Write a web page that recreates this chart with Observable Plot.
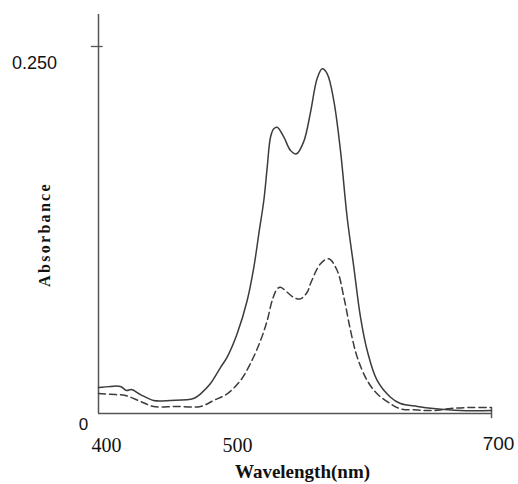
<!DOCTYPE html>
<html>
<head>
<meta charset="utf-8">
<script src="https://cdn.jsdelivr.net/npm/d3@7"></script>
<script src="https://cdn.jsdelivr.net/npm/@observablehq/plot@0.6"></script>
<style>
  html, body { margin: 0; padding: 0; background: #fff; }
</style>
</head>
<body>
<div id="chart"></div>
<script>
// Wavelength (nm) and absorbance for the solid curve
const solidWl = [400, 409.2, 416.8, 421.4, 425.2, 432.1, 442.0, 455.0, 472.5, 477.9, 485.5, 493.1, 498.2, 505.9, 513.5, 518.6, 522.4, 526.2, 528.8, 531.3, 533.8, 536.4, 541.5, 546.6, 551.1, 556.7, 561.8, 566.9, 570.8, 574.6, 579.6, 584.7, 589.8, 594.9, 600.0, 605.1, 612.7, 622.9, 630.5, 643.5, 655.7, 676.3, 700];
const solidAbs = [0.0177, 0.0184, 0.0184, 0.0157, 0.0163, 0.0129, 0.0089, 0.0089, 0.0102, 0.0134, 0.0204, 0.0313, 0.0384, 0.0545, 0.0770, 0.0997, 0.1226, 0.1451, 0.1678, 0.1882, 0.1939, 0.1950, 0.1882, 0.1792, 0.1769, 0.1853, 0.2050, 0.2282, 0.2348, 0.2314, 0.2132, 0.1792, 0.1337, 0.0997, 0.0656, 0.0429, 0.0225, 0.0111, 0.0068, 0.0048, 0.0034, 0.0020, 0.0020];

// Wavelength (nm) and absorbance for the dashed curve
const dashedWl = [400, 413.0, 420.6, 432.1, 442.0, 458.8, 477.9, 488.0, 498.2, 508.4, 516.0, 523.7, 528.8, 532.6, 536.4, 538.9, 544.0, 549.1, 554.2, 559.3, 561.8, 569.5, 575.8, 582.2, 587.3, 592.4, 597.5, 605.1, 612.7, 622.9, 630.5, 643.5, 655.7, 668.7, 684.0, 700];
const dashedAbs = [0.0136, 0.0129, 0.0123, 0.0082, 0.0048, 0.0048, 0.0048, 0.0089, 0.0134, 0.0225, 0.0341, 0.0497, 0.0634, 0.0770, 0.0849, 0.0860, 0.0826, 0.0790, 0.0781, 0.0826, 0.0884, 0.1020, 0.1054, 0.0974, 0.0792, 0.0565, 0.0384, 0.0225, 0.0134, 0.0066, 0.0032, 0.0024, 0.0020, 0.0034, 0.0041, 0.0041];

// Tick labels
const xTicks = [400, 500, 700];
const xTickLabels = ["400", "500", "700"];
const yTicks = [0, 0.25];
const yTickLabels = ["0", "0.250"];
const xLabel = "Wavelength(nm)";
const yLabel = "Absorbance";

const solid = solidWl.map((w, i) => ({w, a: solidAbs[i]}));
const dashed = dashedWl.map((w, i) => ({w, a: dashedAbs[i]}));

const serif = "Liberation Serif, Times New Roman, serif";
const sans = "Liberation Sans, Arial, sans-serif";
const ink = "#3c3c3c";

const chart = Plot.plot({
  width: 518,
  height: 484,
  marginLeft: 98,
  marginRight: 27,
  marginTop: 46,
  marginBottom: 71,
  x: {domain: [400, 700], axis: null},
  y: {domain: [0, 0.25], axis: null},
  style: {background: "#fff"},
  marks: [
    // axes
    Plot.ruleX([400], {y1: 0, y2: 0.2718, stroke: "#555", strokeWidth: 1.5}),
    Plot.ruleY([0], {x1: 400, x2: 700, stroke: "#555", strokeWidth: 1.5}),
    Plot.ruleY([0.25], {x1: 394.5, x2: 403.5, stroke: "#555", strokeWidth: 1.3}),
    Plot.ruleX([700], {y1: -0.0035, y2: 0.0035, stroke: "#555", strokeWidth: 1.5}),
    // curves
    Plot.line(solid, {x: "w", y: "a", curve: "catmull-rom", stroke: ink, strokeWidth: 1.5}),
    Plot.line(dashed, {x: "w", y: "a", curve: "catmull-rom", stroke: ink, strokeWidth: 1.5, strokeDasharray: "7,4"}),
    // x tick labels
    Plot.text([0, 1], {x: i => xTicks[i], y: 0, text: i => xTickLabels[i], dy: 32, dx: 8, fontSize: 20, fontFamily: serif, fill: "#111"}),
    Plot.text([2], {x: i => xTicks[i], y: 0, text: i => xTickLabels[i], dy: 30, dx: 7, fontSize: 19, fontFamily: sans, fill: "#111"}),
    // y tick labels
    Plot.text([0], {x: 400, y: i => yTicks[i], text: i => yTickLabels[i], dx: -15, dy: 11, fontSize: 17, fontFamily: sans, fill: "#111"}),
    Plot.text([1], {x: 400, y: i => yTicks[i], text: i => yTickLabels[i], dx: -64, dy: 17, fontSize: 18, fontFamily: sans, fill: "#111"}),
    // axis titles
    Plot.text([yLabel], {frameAnchor: "left", textAnchor: "middle", lineAnchor: "middle", rotate: -90, dx: -54, dy: 4.5, fontSize: 16, fontWeight: "bold", fontFamily: serif, fill: "#111"}),
    Plot.text([xLabel], {frameAnchor: "bottom", textAnchor: "middle", lineAnchor: "middle", dx: 7.5, dy: 58, fontSize: 19, fontWeight: "bold", fontFamily: serif, fill: "#111"})
  ]
});

d3.select(chart).selectAll("text").filter(function() { return this.textContent === yLabel; }).attr("letter-spacing", "2.3px");

document.getElementById("chart").appendChild(chart);
</script>
</body>
</html>
